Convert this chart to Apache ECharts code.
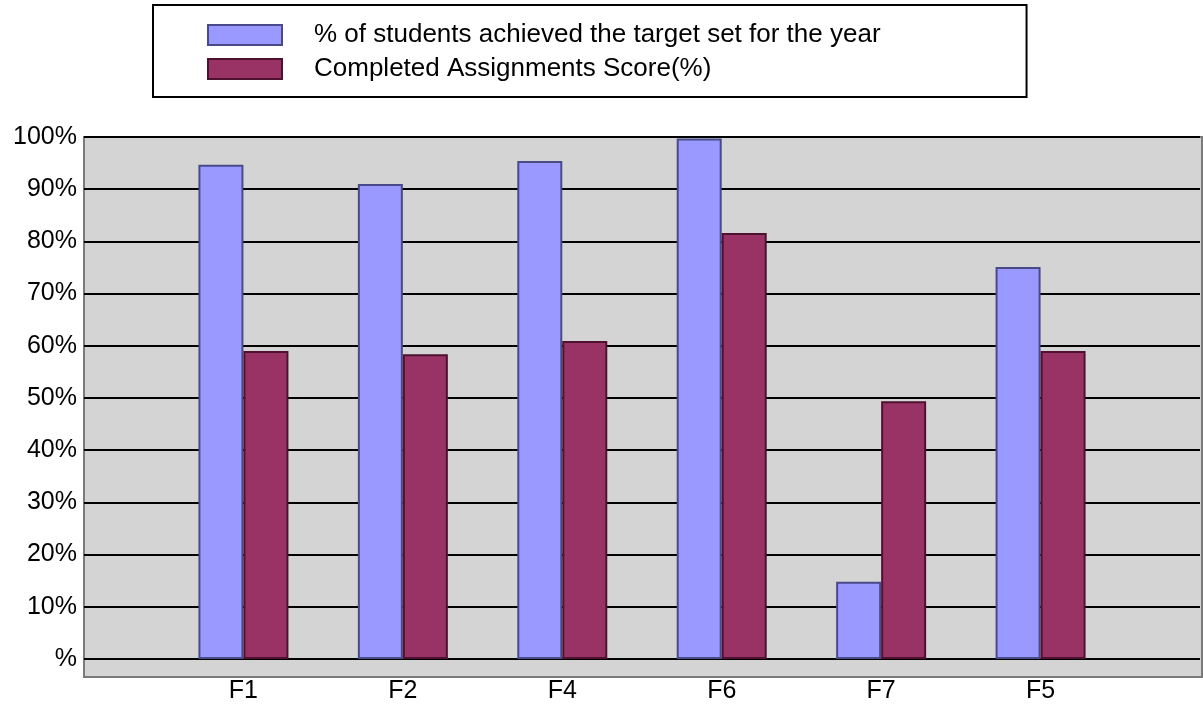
<!DOCTYPE html>
<html>
<head>
<meta charset="utf-8">
<script src="https://cdn.jsdelivr.net/npm/echarts@6/dist/echarts.min.js"></script>
<style>
  html, body { margin: 0; padding: 0; background: #fff; }
  #main { width: 1203px; height: 707px; }
</style>
</head>
<body>
<div id="main"></div>
<script>
// data
var categories = ['F1', 'F2', 'F4', 'F6', 'F7', 'F5'];
var targetPct = [94.7, 91.0, 95.4, 99.7, 14.8, 75.1];
var assignPct = [59.0, 58.4, 60.9, 81.6, 49.4, 59.0];
var yTicks = ['%', '10%', '20%', '30%', '40%', '50%', '60%', '70%', '80%', '90%', '100%'];
var seriesNames = ['% of students achieved the target set for the year', 'Completed Assignments Score(%)'];

// empty slot at each end so the bar pairs sit on the ticks
var xCats = [''].concat(categories, ['']);
function pad(arr) { return ['-'].concat(arr, ['-']); }

var font = 'Liberation Sans, Arial, sans-serif';
var myChart = echarts.init(document.getElementById('main'));
var option = {
    backgroundColor: '#fff',
    animation: false,
    legend: {
        orient: 'vertical',
        left: 153,
        top: 5,
        padding: [17, 146, 15, 54],
        itemWidth: 74,
        itemHeight: 20,
        itemGap: 8,
        borderColor: '#000',
        borderWidth: 2,
        icon: 'rect',
        textStyle: {
            fontFamily: font,
            fontSize: 26,
            color: '#000',
            padding: [0, 0, 0, 27]
        },
        data: seriesNames
    },
    grid: [
        {   // gray plot background, runs a bit below 0%
            left: 84, right: 1, top: 137, bottom: 30,
            show: true,
            backgroundColor: '#d4d4d4',
            borderColor: '#7a7a7a',
            borderWidth: 2
        },
        {
            left: 84, right: 1, top: 137, bottom: 48
        }
    ],
    xAxis: [
        { gridIndex: 0, type: 'category', data: xCats, show: false },
        {
            gridIndex: 1,
            type: 'category',
            data: xCats,
            boundaryGap: false,
            offset: 18,
            axisLine: { show: false },
            axisTick: { show: false },
            axisLabel: {
                interval: 0,
                margin: 2,
                fontFamily: font,
                fontSize: 25,
                color: '#000'
            }
        }
    ],
    yAxis: [
        { gridIndex: 0, type: 'value', show: false },
        {
            gridIndex: 1,
            type: 'value',
            min: 0,
            max: 100,
            interval: 10,
            axisLine: { show: false },
            axisTick: { show: false },
            axisLabel: {
                margin: 7,
                fontFamily: font,
                fontSize: 25,
                color: '#000',
                formatter: function (v) { return yTicks[Math.round(v / 10)]; }
            },
            splitLine: {
                lineStyle: { color: '#000', width: 2 }
            }
        }
    ],
    series: [
        {
            name: seriesNames[0],
            type: 'bar',
            xAxisIndex: 1,
            yAxisIndex: 1,
            barWidth: 45,
            barGap: '0%',
            data: pad(targetPct),
            itemStyle: { color: '#9999ff', borderColor: '#4a4a8a', borderWidth: 2 }
        },
        {
            name: seriesNames[1],
            type: 'bar',
            xAxisIndex: 1,
            yAxisIndex: 1,
            barWidth: 45,
            barGap: '0%',
            data: pad(assignPct),
            itemStyle: { color: '#993366', borderColor: '#4e1230', borderWidth: 2 }
        }
    ]
};
myChart.setOption(option);
</script>
</body>
</html>
